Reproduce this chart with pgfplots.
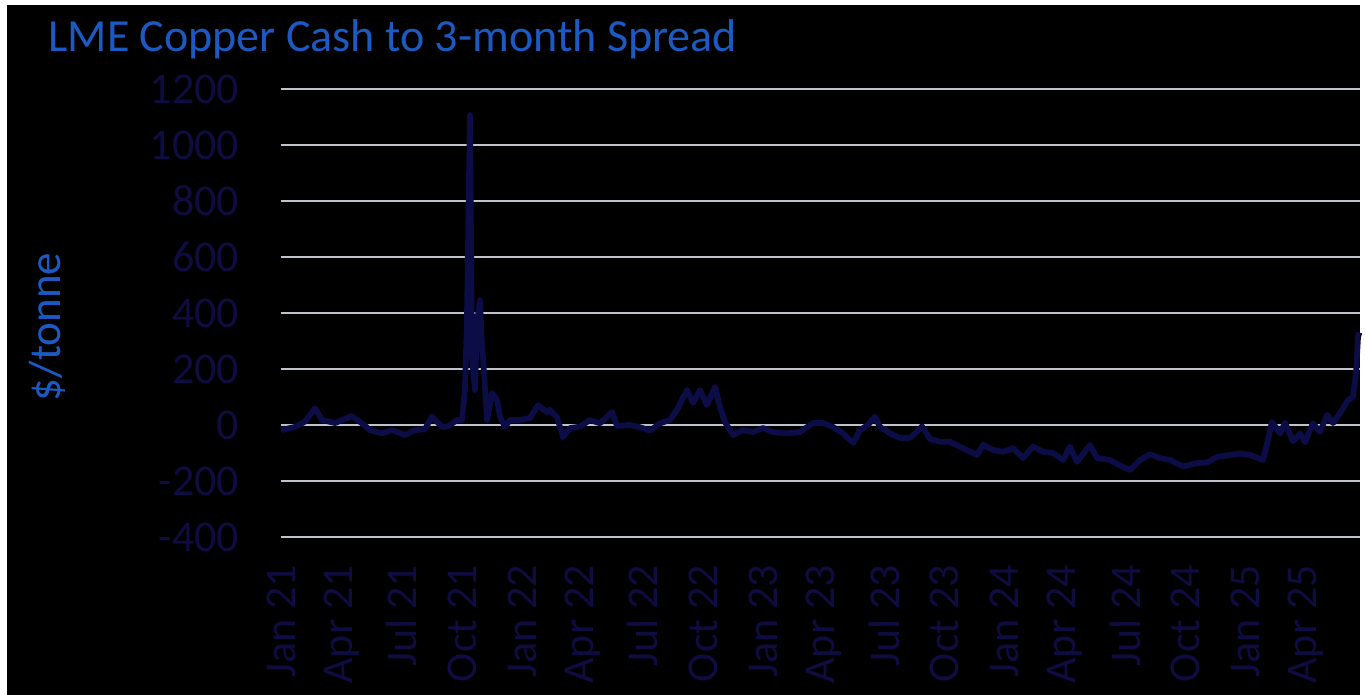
\documentclass[border=0pt]{standalone}
\usepackage{pgfplots}
\pgfplotsset{compat=1.18}
\usepackage{fontspec}
\setmainfont{Carlito}
\definecolor{titleblue}{RGB}{28,90,195}
\definecolor{navytxt}{RGB}{14,12,64}
\definecolor{navyline}{RGB}{12,12,70}
\definecolor{gridgray}{RGB}{190,194,204}
\begin{document}
\begin{tikzpicture}[x=1pt,y=1pt]
\fill[white] (-140.5,-79) rectangle (542,268.5);
\fill[black] (-137,-79) rectangle (539.5,266);
\path[use as bounding box] (-140.5,-79) rectangle (542,268.5);
\begin{axis}[
  at={(0,0)}, anchor=south west,
  scale only axis, width=539.5pt, height=224pt,
  xmin=0, xmax=53.68, ymin=-400, ymax=1200,
  ytick={-400,-200,0,200,400,600,800,1000,1200},
  xtick={0,3,6,9,12,15,18,21,24,27,30,33,36,39,42,45,48,51},
  xticklabels={Jan 21,Apr 21,Jul 21,Oct 21,Jan 22,Apr 22,Jul 22,Oct 22,Jan 23,Apr 23,Jul 23,Oct 23,Jan 24,Apr 24,Jul 24,Oct 24,Jan 25,Apr 25},
  axis line style={draw=none}, tick style={draw=none},
  ymajorgrids, grid style={gridgray, line width=1.3pt},
  /pgf/number format/assume math mode=true,
  /pgf/number format/1000 sep={},
  ticklabel style={font=\fontsize{22}{26}\selectfont, text=navytxt},
  xticklabel style={rotate=90, anchor=east},
  xticklabel shift=10.5pt,
  yticklabel shift=17.5pt,
  clip=false,
]
\addplot[navyline, line width=2.9pt, line join=round] coordinates {
(0,-18) (0.70,-7) (1.19,12) (1.69,60) (2.04,18) (2.69,7) (3.53,32) (4.03,6) (4.43,-18) (5.02,-30) (5.52,-18) (6.17,-36) (6.67,-18) (7.16,-15) (7.51,30) (8.01,-7) (8.31,-5) (8.76,18) (9.00,18) (9.15,125) (9.25,364) (9.40,1107) (9.50,243) (9.65,125) (9.75,364) (9.90,446) (10.00,280) (10.05,243) (10.25,18) (10.50,114) (10.75,89) (10.90,29) (11.14,-7) (11.39,18) (11.89,18) (12.39,25) (12.79,71) (13.23,46) (13.38,54) (13.73,29) (14.03,-43) (14.38,-11) (14.88,-6) (15.37,18) (15.87,6) (16.47,46) (16.72,-4) (17.36,0) (17.86,-8) (18.36,-20) (18.86,6) (19.35,18) (19.70,54) (20.20,125) (20.50,79) (20.85,125) (21.19,71) (21.59,136) (21.84,64) (22.09,10) (22.49,-36) (22.99,-18) (23.48,-25) (23.98,-11) (24.48,-25) (25.17,-30) (25.82,-25) (26.47,7) (26.97,7) (27.46,-7) (27.96,-30) (28.46,-64) (28.81,-18) (29.20,0) (29.55,30) (29.80,-7) (30.30,-30) (30.80,-46) (31.29,-46) (31.54,-30) (31.89,-5) (32.29,-50) (32.79,-60) (33.28,-60) (33.93,-83) (34.63,-107) (34.93,-71) (35.42,-89) (35.92,-96) (36.42,-83) (36.92,-118) (37.41,-77) (37.91,-96) (38.41,-100) (38.91,-125) (39.25,-77) (39.60,-132) (40.25,-71) (40.60,-118) (41.24,-125) (41.89,-150) (42.24,-161) (42.74,-125) (43.23,-105) (43.73,-118) (44.23,-125) (44.88,-148) (45.57,-136) (46.07,-134) (46.57,-114) (47.21,-107) (47.71,-102) (48.21,-107) (48.86,-125) (49.10,-54) (49.30,11) (49.70,-30) (49.95,8) (50.35,-58) (50.70,-30) (50.95,-61) (51.34,6) (51.69,-25) (52.04,36) (52.34,7) (52.79,54) (53.08,89) (53.33,100) (53.48,186) (53.58,314) (53.65,330)
};
\end{axis}
\node[anchor=base west, text=titleblue, font=\fontsize{23}{27}\selectfont, inner sep=0pt] at (-116.5,242.5) {LME Copper Cash to 3-month Spread};
\node[rotate=90, anchor=center, text=titleblue, font=\fontsize{22.5}{26}\selectfont, inner sep=0pt] at (-117,105) {\$/tonne};
\end{tikzpicture}
\end{document}
